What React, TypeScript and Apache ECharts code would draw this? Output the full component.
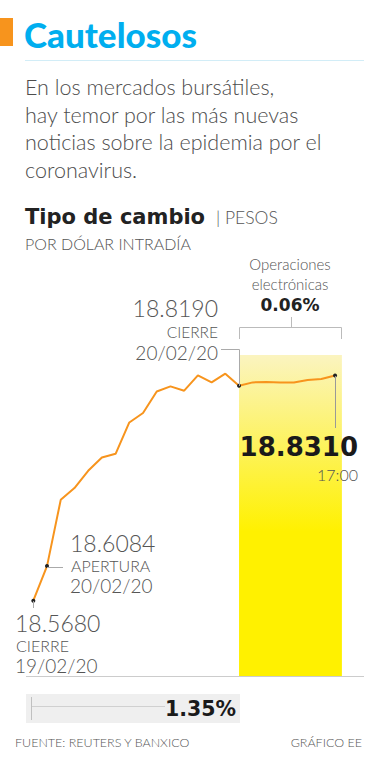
import React, { useEffect, useRef } from "react";
import * as echarts from "echarts";

const steps = [0, 1, 2, 3, 4, 5, 6, 7, 8, 9, 10, 11, 12, 13, 14, 15, 16, 17, 18, 19, 20, 21, 22];
const rates = [
  18.568, 18.6084, 18.6858, 18.6995, 18.7197, 18.7353, 18.7396, 18.7762, 18.7872, 18.8124,
  18.8183, 18.8133, 18.8312, 18.823, 18.8332, 18.819, 18.823, 18.8234, 18.823, 18.823,
  18.8258, 18.8269, 18.831,
];
const markedSteps = [0, 1, 15, 22];
const electronicStart = 15;
const paragraph = [
  "En los mercados bursátiles,",
  "hay temor por las más nuevas",
  "noticias sobre la epidemia por el",
  "coronavirus.",
];

const LIGHT = "Lato, 'Open Sans', sans-serif";
const HEAVY = "'DejaVu Sans', sans-serif";

export default function App() {
  const ref = useRef<HTMLDivElement>(null);
  useEffect(() => {
    if (!ref.current) return;
    const chart = echarts.init(ref.current, null, { renderer: "svg" });
    const gray = "#555";
    const t = (x: number, y: number, text: string, size: number, opts: any = {}) => ({
      type: "text",
      x,
      y,
      z: 100,
      style: {
        text,
        fill: opts.fill || gray,
        font: `${opts.weight || 300} ${size}px ${opts.family || LIGHT}`,
        textAlign: opts.align || "left",
        textVerticalAlign: "middle",
      },
    });
    const ln = (x1: number, y1: number, x2: number, y2: number, stroke = "#aaa", w = 1) => ({
      type: "line",
      z: 100,
      shape: { x1, y1, x2, y2 },
      style: { stroke, lineWidth: w },
    });
    const graphic: any[] = [
      { type: "rect", shape: { x: 0, y: 18, width: 13, height: 28 }, style: { fill: "#F7941D" } },
      t(24, 34, "Cautelosos", 35, { fill: "#00AEEF", weight: 900 }),
      ln(25, 60.5, 364, 60.5, "#d2edf7"),
      ...paragraph.map((p, i) => t(25, 87 + i * 27.7, p, 21.5, { fill: "#4d4d4d" })),
      t(25, 217, "Tipo de cambio", 21, { fill: "#222", weight: "bold", family: HEAVY }),
      t(216, 217, "| PESOS", 17.5, {}),
      t(25, 243, "POR DÓLAR INTRADÍA", 16, {}),
      // bracket
      t(290, 264, "Operaciones", 15, { align: "center" }),
      t(290, 284, "electrónicas", 15, { align: "center" }),
      t(290, 305, "0.06%", 17, { align: "center", fill: "#222", weight: "bold", family: HEAVY }),
      ln(291.5, 317, 291.5, 328, "#bbb"),
      ln(239.5, 327.5, 341.5, 327.5, "#bbb"),
      ln(239.5, 327.5, 239.5, 339, "#bbb"),
      ln(341.5, 327.5, 341.5, 339, "#bbb"),
      // 18.8190
      t(218, 308, "18.8190", 23, { align: "right" }),
      t(218, 332, "CIERRE", 15.5, { align: "right" }),
      t(218, 352, "20/02/20", 19, { align: "right" }),
      ln(221, 349.5, 239.5, 349.5, "#aaa"),
      ln(239.5, 349.5, 239.5, 386, "#aaa"),
      // 18.8310
      ln(335.5, 376, 335.5, 428, "#999"),
      t(358, 447, "18.8310", 26, { align: "right", fill: "#1a1a1a", weight: "bold", family: HEAVY }),
      t(358, 474, "17:00", 16, { align: "right" }),
      // 18.6084
      t(70, 543, "18.6084", 23, {}),
      t(71, 565, "APERTURA", 16, {}),
      t(70, 585, "20/02/20", 19, {}),
      ln(47, 567.5, 63, 567.5, "#aaa"),
      // 18.5680
      ln(33.5, 601, 33.5, 608, "#aaa"),
      t(15, 623, "18.5680", 23, {}),
      t(16, 645, "CIERRE", 16, {}),
      t(15, 665, "19/02/20", 19, {}),
      // baseline
      ln(26, 676.5, 364, 676.5, "#ccc"),
      // variation box
      { type: "rect", z: 100, shape: { x: 26, y: 694, width: 214, height: 29 }, style: { fill: "#efefef" } },
      ln(31, 706.5, 165, 706.5, "#d0d0d0"),
      ln(31.5, 697, 31.5, 720, "#c0c0c0"),
      t(236, 709, "1.35%", 20.5, { align: "right", fill: "#1a1a1a", weight: "bold", family: HEAVY }),
      // footer
      t(15, 742, "FUENTE: REUTERS Y BANXICO", 12.5, {}),
      t(362, 742, "GRÁFICO EE", 12.5, { align: "right" }),
    ];
    chart.setOption({
      animation: false,
      grid: { left: 33.3, right: 32.1, top: 355, bottom: 92 },
      xAxis: { type: "value", min: 0, max: 22.5, show: false },
      yAxis: { type: "value", min: 18.48, max: 18.855, show: false },
      graphic,
      series: [
        {
          type: "line",
          data: steps.map((s, i) => ({
            value: [s, rates[i]],
            symbol: markedSteps.includes(s) ? "circle" : "none",
            symbolSize: 4,
            itemStyle: { color: "#222" },
          })),
          lineStyle: { color: "#F7941D", width: 2 },
          z: 5,
          markArea: {
            silent: true,
            itemStyle: {
              color: new echarts.graphic.LinearGradient(0, 0, 0, 1, [
                { offset: 0, color: "#FBF4C0" },
                { offset: 0.55, color: "#FFF100" },
                { offset: 1, color: "#FFF100" },
              ]),
            },
            data: [[{ xAxis: electronicStart }, { xAxis: 22.5 }]],
          },
        },
      ],
    });
    return () => chart.dispose();
  }, []);
  return (
    <div
      ref={ref}
      style={{ position: "absolute", left: 0, top: 0, width: 374, height: 768, background: "#fff" }}
    />
  );
}
